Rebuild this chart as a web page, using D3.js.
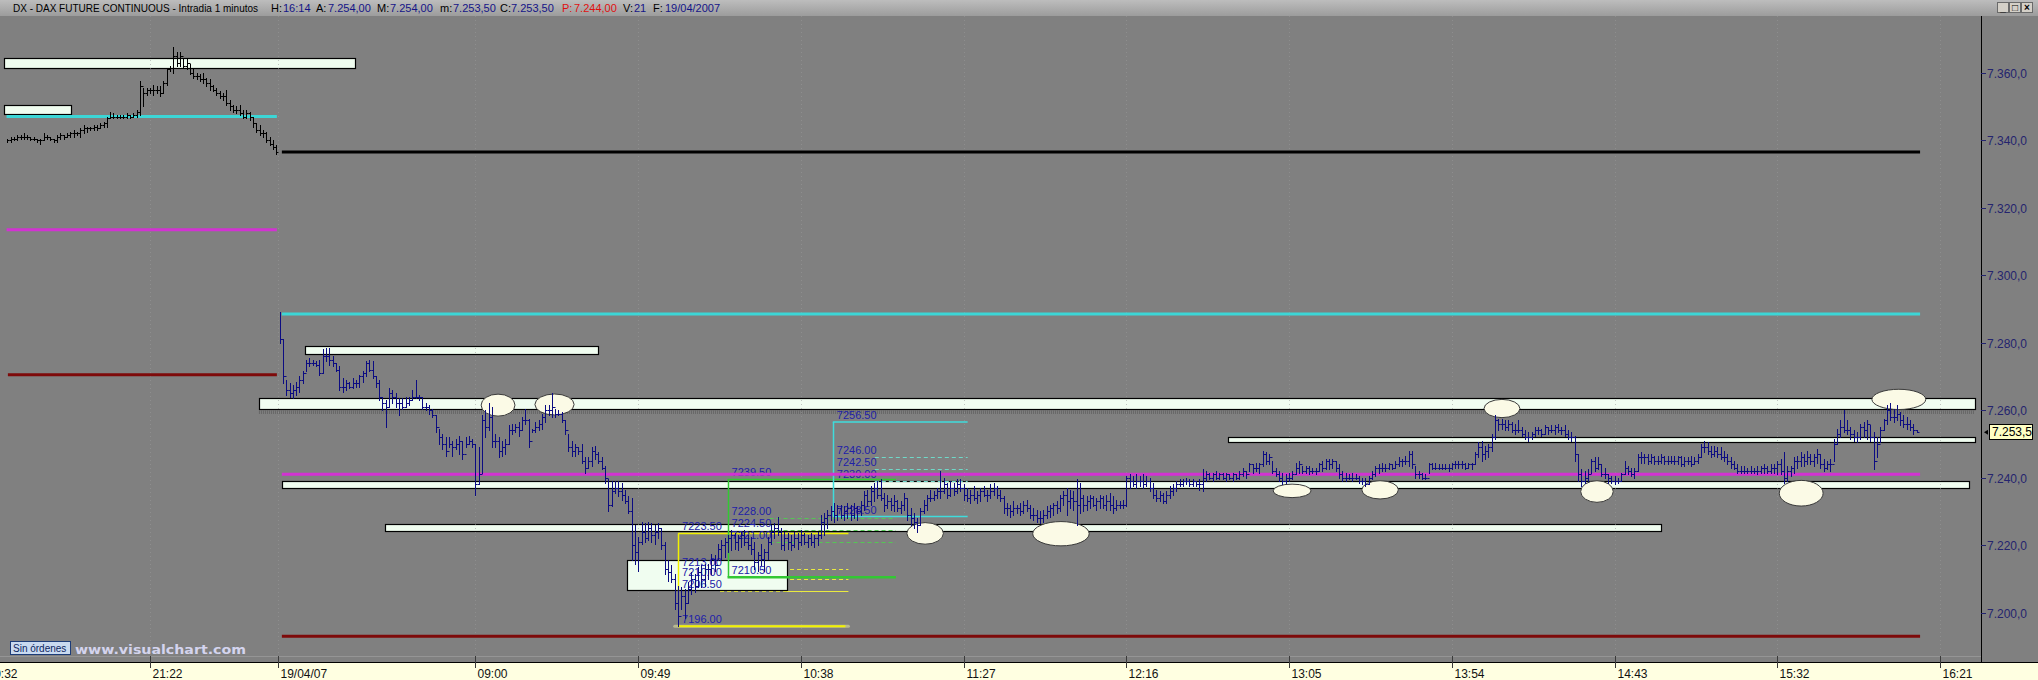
<!DOCTYPE html>
<html>
<head>
<meta charset="utf-8">
<script src="https://cdn.jsdelivr.net/npm/d3@7"></script>
<style>
html,body{margin:0;padding:0;background:#808080;overflow:hidden}
svg{display:block}
</style>
</head>
<body>
<svg id="chart" width="2038" height="680"></svg>
<script>
// ---------------- DATA ----------------
// bar index: one bar per minute of trading; 21:22 = 49, 09:00 = 147, 16:21 = 588
const eveStart = 6;
const eveLow = [7339.5,7339.5,7340,7340,7340.5,7340.5,7340.5,7340,7340,7339.5,
7339,7340,7340.5,7340,7339.5,7339.5,7340.5,7340.5,7341,7341,
7341,7341.5,7341,7342,7342.5,7343,7343,7343,7343.5,7344,
7344,7346.5,7346.5,7346.5,7346.5,7346.5,7346.5,7346.5,7347,7347,
7347.5,7350,7353.5,7354,7353.5,7354,7353,7354,7356.5,7360.5,
7360,7362,7362,7361.5,7361,7359.5,7358.5,7358,7357.5,7357,
7356,7355,7354.5,7353.5,7352.5,7352,7350.5,7349,7348.5,7348,
7347.5,7346.5,7346.5,7346,7344,7342.5,7341.5,7341,7339.5,7338.5,
7337.5,7336];
const eveHigh = [7340.5,7341,7341,7341.5,7341.5,7342,7341.5,7341,7341,7340.5,
7340.5,7342,7341.5,7341,7340.5,7341.5,7342,7341.5,7342,7342.5,
7343,7342.5,7343.5,7344.5,7344,7344,7344.5,7344.5,7345,7345.5,
7347,7348.5,7348,7347.5,7347.5,7347.5,7348,7347.5,7348,7349,
7357.5,7355.5,7355.5,7355.5,7356.5,7356,7356,7357.5,7361.5,7362,
7367.5,7366,7366,7364.5,7364.5,7362.5,7361,7360,7359.5,7360,
7358.5,7358,7356.5,7355.5,7354.5,7354,7355,7352,7350.5,7350,
7350.5,7349,7349,7348.5,7347,7345,7344.5,7343,7342.5,7341,
7340,7338.5];
const eveClose = [7340,7340.5,7340.5,7341,7341,7341,7341,7340.5,7340.5,7340,
7340,7341,7341,7340.5,7340,7341,7341.5,7341,7341.5,7342,
7342,7342,7343,7343.5,7343.5,7343.5,7344,7343.5,7344.5,7345,
7346.5,7347,7347,7347,7347,7347,7347.5,7347,7347.5,7348.5,
7356,7354,7355,7355,7355,7355,7354,7357,7361,7361.5,
7365,7363,7365,7362,7363,7360,7359,7359,7358,7358,
7357,7356,7355,7354,7353,7353,7351,7350,7349,7349,
7348,7347,7348,7347,7345,7343,7342,7342,7340,7339,
7338,7336.5];

const dayStart = 88;
const dayLow = [
7280,7268,7264.5,7264,7263.5,7264.5,7265.5,7268,7271.5,7273,
7273.5,7273,7270.5,7271,7274.5,7273.5,7273,7271.5,7266,7265.5,
7266,7266.5,7266.5,7267,7267,7268.5,7270,7271.5,7269.5,7267,
7263,7260,7255,7261,7262,7261,7258.5,7260.5,7261,7261.5,
7263,7263.5,7263,7260.5,7260,7259,7258,7253.5,7250,7248.5,
7246.5,7249,7246.5,7248.5,7247,7245.5,7249,7250,7249,7235,
7238,7241.5,7252,7254,7249,7249,7246,7246.5,7247,7250,
7253,7253.5,7252.5,7254,7256,7249,7253.5,7253.5,7254,7254.5,
7256.5,7258.5,7258,7258,7258.5,7256.5,7253,7248,7246.5,7246.5,
7247,7244.5,7241.5,7243,7243.5,7245.5,7244.5,7242.5,7238.5,7230,
7231.5,7235.5,7234.5,7233.5,7232.5,7229.5,7215.5,7214.5,7212.5,7220.5,
7221,7221.5,7221,7220.5,7222,7219,7211.5,7209.5,7209,7201,
7196,7201,7198.5,7203,7205.5,7206,7207.5,7207.5,7208,7210,
7211.5,7212.5,7215.5,7216,7216.5,7218,7218.5,7219,7218.5,7219.5,
7220,7219,7217.5,7213,7212.5,7214,7212.5,7216,7220.5,7222,
7223,7219,7218.5,7219,7218.5,7219.5,7219,7220,7220.5,7219.5,
7220,7219.5,7220,7222,7223,7225,7227.5,7227,7227.5,7228,
7227.5,7228,7227.5,7228,7227.5,7229,7230.5,7231.5,7232,7233,
7234,7233.5,7230,7231,7230.5,7230,7230,7229.5,7230.5,7227.5,
7226,7225,7224,7226,7229.5,7230.5,7233,7233.5,7234,7234,
7235.5,7234,7234.5,7235,7235.5,7236,7233.5,7233,7232.5,7233.5,
7232.5,7233,7234.5,7233,7234,7235,7234,7233,7229.5,7229,
7228.5,7229,7229.5,7229,7229.5,7230,7228,7227.5,7227,7226.5,
7227,7228,7228.5,7229,7229.5,7230,7232,7229,7231,7230.5,
7226,7229.5,7230,7230.5,7231,7231.5,7230.5,7231,7231,7230.5,
7230.5,7229.5,7230.5,7231,7231,7231.5,7237,7237.5,7237,7237.5,
7237,7237.5,7236,7234,7233,7233,7232.5,7232.5,7234,7235,
7236,7237.5,7237.5,7238,7237.5,7237.5,7237.5,7236.5,7236,7239,
7239.5,7239,7239.5,7239.5,7239.5,7239,7239.5,7239,7239.5,7239.5,
7240.5,7240,7242,7241.5,7242,7241.5,7243.5,7244,7244,7241.5,
7240.5,7239,7238,7238.5,7239,7239.5,7241,7241.5,7241.5,7241.5,
7241,7241.5,7241,7242,7242,7242.5,7242.5,7243,7242,7240,
7239,7239,7239.5,7239,7239.5,7238.5,7238,7237.5,7238,7239.5,
7240.5,7241.5,7242,7242,7242.5,7242.5,7243,7243.5,7243.5,7244,
7243.5,7243,7240,7240,7239.5,7239.5,7241.5,7242.5,7242.5,7242.5,
7242.5,7242.5,7242,7242.5,7243,7243,7243,7242.5,7243,7242.5,
7244,7246,7245,7245.5,7246,7248,7251.5,7254,7254.5,7254,
7254,7253.5,7253,7253.5,7252.5,7251.5,7251,7251.5,7252.5,7253,
7252.5,7253,7253,7253.5,7253,7253.5,7253,7252.5,7251.5,7251,
7245,7239,7237.5,7238.5,7239,7241.5,7242,7242.5,7240.5,7240,
7238.5,7238.5,7238,7238.5,7239,7241,7241,7240.5,7240,7242,
7244.5,7244.5,7244,7244.5,7244,7244,7244.5,7244,7244,7244.5,
7244,7244,7243.5,7243.5,7244,7243.5,7244,7244.5,7246,7247.5,
7247,7246,7246.5,7246,7245.5,7245,7244,7243,7242.5,7241.5,
7241.5,7241.5,7241.5,7241.5,7241.5,7241,7241.5,7241.5,7241.5,7241.5,
7241.5,7241,7241,7238.5,7239,7240.5,7241.5,7243,7243.5,7243.5,
7244,7244,7243.5,7244.5,7243,7242,7242.5,7242,7245,7250,
7252,7253.5,7253,7251.5,7251,7250.5,7251.5,7252,7251.5,7251,
7242.5,7246,7250.5,7254,7256,7257,7256.5,7257,7255.5,7255,
7254.5,7254,7253,7253.5];
const dayHigh = [
7289,7281,7269,7268,7267.5,7268.5,7270,7271.5,7275,7275.5,
7275,7274.5,7275,7278,7278.5,7278.5,7276,7274,7273,7269.5,
7269,7268.5,7269.5,7269,7270.5,7271.5,7274.5,7275,7274.5,7270,
7269,7264,7263,7266.5,7266,7265,7263.5,7263.5,7264,7264,
7266,7269,7264.5,7264,7262,7261.5,7260.5,7258.5,7254.5,7253,
7252,7252,7251,7251.5,7252.5,7251,7252,7252.5,7251.5,7250,
7249,7258.5,7260,7262,7261,7253,7252,7251,7251.5,7255.5,
7256,7256,7256.5,7258,7260.5,7257.5,7254.5,7256.5,7257,7259,
7261.5,7261.5,7265,7260.5,7260,7259.5,7257,7253,7251,7250,
7249,7250,7246,7246,7249,7249.5,7247.5,7246,7243.5,7239.5,
7239,7239,7239,7238.5,7236.5,7234.5,7234,7226,7222.5,7227,
7226.5,7227,7226.5,7226,7226.5,7225,7221,7215.5,7214,7211.5,
7208,7207.5,7207,7209,7212,7211.5,7213.5,7214,7214.5,7214.5,
7217.5,7217,7220.5,7221.5,7222,7223,7224.5,7223.5,7223,7224,
7224.5,7223,7222.5,7221,7218,7220.5,7219,7222.5,7226,7226.5,
7228.5,7225,7224,7223.5,7223,7224,7223.5,7224.5,7223.5,7223,
7223.5,7223,7224,7229,7229.5,7230.5,7231.5,7232.5,7232,7232,
7231.5,7232.5,7232,7232.5,7231.5,7233,7236,7236.5,7237.5,7238.5,
7239,7239.5,7235.5,7235,7234,7235,7233.5,7233,7235.5,7234,
7231,7229.5,7228,7231,7233.5,7235,7236.5,7236,7237,7242,
7240,7238.5,7239,7238.5,7239.5,7239.5,7238,7237,7236.5,7237.5,
7236,7237,7237.5,7236.5,7238,7238.5,7237.5,7236.5,7234.5,7232.5,
7232,7233,7232,7232.5,7233,7233.5,7232,7231,7230.5,7230,
7230.5,7231.5,7232,7232.5,7233,7235,7236,7237,7236.5,7236,
7239.5,7238.5,7235,7234.5,7235,7234.5,7234,7235,7234.5,7235,
7235.5,7234.5,7233.5,7233,7233.5,7240.5,7241,7240.5,7241,7240.5,
7241,7240.5,7240,7238.5,7236.5,7236,7235.5,7236,7237.5,7238,
7239,7239.5,7239.5,7240,7239.5,7239.5,7239,7239.5,7242.5,7242,
7241.5,7241.5,7242,7241.5,7241.5,7241.5,7241,7241.5,7241,7242,
7243,7242,7244.5,7244,7244.5,7244.5,7248,7247.5,7247,7245,
7243,7242,7241.5,7241,7241.5,7242,7244.5,7245,7243.5,7243.5,
7243.5,7243,7243,7244.5,7245,7245.5,7245.5,7245.5,7245,7244,
7242,7241.5,7241,7241.5,7241,7240.5,7240,7240,7240.5,7242,
7243.5,7244,7244.5,7244,7244.5,7244,7245,7246,7245.5,7246.5,
7248,7248,7243.5,7242,7241.5,7241,7244.5,7244.5,7244.5,7244,
7244,7244,7244,7244.5,7245,7245,7245,7244.5,7244.5,7244.5,
7247.5,7250.5,7251,7249.5,7250,7253,7258.5,7257.5,7257.5,7257,
7257,7256.5,7256,7257,7255,7254,7253.5,7253.5,7255,7255,
7254.5,7255.5,7255,7255.5,7255.5,7256,7255,7255.5,7254,7253.5,
7252.5,7247,7242.5,7242,7242.5,7245.5,7246,7246,7244,7243,
7241,7240.5,7240.5,7240,7241.5,7245,7243.5,7243,7243,7247,
7247.5,7247,7247,7247,7246.5,7246.5,7247,7246.5,7246.5,7246.5,
7246.5,7246.5,7246.5,7246,7246,7246.5,7246,7247,7250,7251,
7250.5,7249.5,7249.5,7249,7249,7248,7247,7246,7245,7244,
7243.5,7243.5,7243,7243.5,7243,7243.5,7243.5,7244,7243.5,7244,
7244,7245,7245.5,7247.5,7243.5,7243.5,7246,7246.5,7247.5,7247,
7248,7247,7247,7248.5,7247,7245.5,7245,7245.5,7251.5,7254.5,
7257,7260,7257,7255,7254,7253.5,7256,7256.5,7257,7255.5,
7253.5,7252,7255,7257.5,7261.5,7262,7260.5,7261.5,7259.5,7258.5,
7258,7257,7256,7254];
const dayClose = [
7281,7270,7266,7265,7266,7267,7269,7271,7274,7274,
7274,7273.5,7271,7276,7276,7275,7274,7272,7267,7267,
7268,7267,7268,7268,7270,7271,7274,7272,7270,7268,
7264,7262,7261,7265,7264,7262,7262,7261,7262,7263,
7264,7264,7264,7261,7261,7260,7258.5,7255,7252,7250,
7248,7250,7249,7250,7251,7247,7250,7251,7250,7238,
7241,7257,7255,7258,7251,7251,7248,7249,7250,7254,
7254,7255,7254,7257,7257,7251,7254,7255,7256,7258,
7260,7260,7261,7259,7259,7257,7254,7249,7248,7249,
7248,7245,7243,7245,7248,7247,7245,7243,7240,7232,
7236,7237,7236,7235,7233,7230,7220,7218,7221,7224,
7222,7225,7223,7224,7225,7220,7213,7212,7210,7203,
7199,7205,7203,7207,7210,7208,7212,7210,7213,7213,
7216,7214,7219,7220,7221,7222,7223,7221,7222,7223,
7221,7220,7219,7215,7217,7216,7218,7221,7224,7225,
7224,7220,7222,7221,7220,7222,7221,7223,7221,7222,
7221,7222,7223,7227,7228,7229,7230,7229,7231,7229,
7230,7231,7229,7231,7230,7232,7235,7233,7236,7237,
7235,7234,7232,7233,7232,7233,7231,7232,7234,7229,
7228,7227,7226,7230,7232,7234,7234,7235,7236,7236,
7238,7235,7237,7236,7238,7237,7235,7234,7235,7234,
7235,7236,7235,7235,7236,7237,7235,7234,7231,7231,
7230,7231,7231,7230,7232,7231,7229,7229,7228,7228,
7229,7230,7231,7232,7231,7234,7235,7233,7234,7233,
7232,7234,7232,7233,7234,7232,7233,7234,7232,7233,
7232,7231,7232,7232,7232,7240,7239,7238,7239,7239,
7238,7239,7237,7235,7234,7235,7233,7235,7236,7237,
7238,7238,7239,7239,7238,7239,7238,7238,7240,7241,
7240,7241,7240,7241,7240,7241,7240,7241,7240,7241,
7242,7241,7244,7243,7243,7244,7247,7245,7246,7242,
7241,7240,7239,7240,7240,7241,7243,7244,7242,7243,
7242,7242,7242,7244,7243,7245,7244,7245,7243,7241,
7240,7240,7240,7240,7240,7239,7239,7238,7240,7241,
7243,7243,7243,7243,7244,7243,7244,7245,7245,7245,
7247,7244,7241,7241,7240,7240,7244,7243,7243,7243,
7243,7243,7243,7244,7244,7244,7244,7243,7244,7244,
7247,7249,7247,7248,7249,7252,7257,7256,7256,7255,
7256,7254,7254,7254,7253,7252,7252,7253,7254,7254,
7253,7255,7254,7254,7255,7254,7254,7253,7252,7252,
7247,7241,7239,7240,7241,7245,7243,7244,7241,7241,
7240,7239,7239,7239,7241,7243,7242,7241,7242,7246,
7246,7246,7245,7246,7245,7245,7246,7245,7245,7245,
7245,7246,7244,7245,7245,7244,7245,7246,7249,7249,
7248,7247,7248,7247,7246,7246,7245,7244,7243,7242,
7242,7242,7242,7242,7242,7242,7243,7243,7242,7243,
7243,7244,7242,7240,7242,7243,7245,7245,7246,7245,
7246,7245,7246,7247,7244,7243,7244,7244,7250,7253,
7255,7254,7254,7253,7252,7252,7255,7254,7256,7252,
7245,7250,7254,7257,7260,7258,7258,7259,7257,7256,
7256,7255,7254,7253.5];

// horizontal reference levels (price, first bar, last bar, kind)
const levelPrice = [7347, 7313.5, 7270.5, 7336.5, 7288.5, 7241, 7193];
const levelFrom  = [5.8, 5.8, 6.2, 88.7, 88.7, 88.7, 88.7];
const levelTo    = [87.2, 87.2, 87.2, 582, 582, 582, 582];
const levelKind  = ["cyan","magenta","darkred","black","cyan","magenta","darkred"];

// support / resistance zones (price low, price high, first bar, last bar)
const zoneLow  = [7361.3, 7347.7, 7276.6, 7260.3, 7250.5, 7237.1, 7224.1];
const zoneHigh = [7364.3, 7350.3, 7279.1, 7263.5, 7252.0, 7239.1, 7226.2];
const zoneFrom = [5, 5, 95.8, 81.8, 373.7, 88.8, 119.7];
const zoneTo   = [110.7, 25.1, 184.1, 598.5, 598.5, 596.7, 504];
const boxLow = 7206.5, boxHigh = 7215.5, boxFrom = 192.6, boxTo = 240.8;

// retracement sets
const fibKind   = ["yellow","green","cyan"];
const fibFrom   = [208, 222.9, 254.6];
const fibTo     = [259.3, 273.6, 295.2];
const fibTop    = [7223.5, 7239.5, 7256.5];
const fibBottom = [7206.5, 7210.5, 7228.5];
const fibMid    = [[7213, 7210], [7228, 7224.5, 7221], [7246, 7242.5, 7239]];
const fibLabels = [[7223.5, 7213, 7210, 7206.5, 7196], [7239.5, 7228, 7224.5, 7221, 7210.5], [7256.5, 7246, 7242.5, 7239, 7228.5]];
const yellowLow = 7196, yellowLowFrom = 207;

// marked swing points (centre bar, centre price, half-width in bars, half-height in points)
const markBar   = [153.8, 170.8, 282.4, 323.3, 392.9, 419.4, 456.1, 484.7, 546.2, 575.6];
const markPrice = [7261.5, 7261.7, 7223.5, 7223.4, 7236.1, 7236.4, 7260.5, 7235.9, 7235.4, 7263.2];
const markRBar  = [5.1, 5.9, 5.5, 8.5, 5.7, 5.5, 5.4, 4.9, 6.6, 8.1];
const markRPts  = [3.26, 3.1, 3.2, 3.6, 2.0, 2.7, 2.7, 3.2, 3.8, 3.0];

// axes
const yTickValues = [7200, 7220, 7240, 7260, 7280, 7300, 7320, 7340, 7360];
const yTickLabels = ["7.200,0","7.220,0","7.240,0","7.260,0","7.280,0","7.300,0","7.320,0","7.340,0","7.360,0"];
const xTickBars   = [-0.6, 49, 87.5, 147, 196, 245, 294, 343, 392, 441, 490, 539, 588];
const xTickLabels = ["20:32","21:22","19/04/07","09:00","09:49","10:38","11:27","12:16","13:05","13:54","14:43","15:32","16:21"];
const lastPrice = 7253.5, lastPriceLabel = "7.253,5";

const titleParts = [
  ["DX - DAX FUTURE CONTINUOUS - Intradia 1 minutos", "k"],
  ["H:", "k"], ["16:14", "v"], ["A:", "k"], ["7.254,00", "v"], ["M:", "k"], ["7.254,00", "v"],
  ["m:", "k"], ["7.253,50", "v"], ["C:", "k"], ["7.253,50", "v"], ["P:", "r"], ["7.244,00", "r"],
  ["V:", "k"], ["21", "v"], ["F:", "k"], ["19/04/2007", "v"]
];
const titleX = [13, 271, 283, 316, 328, 377, 390, 440, 453, 500, 511, 562, 574, 623, 634, 653, 665];

// ---------------- DRAWING ----------------
const W = 2038, H = 680, PT = 16, PB = 662, PR = 1981;
const FONT = "'Liberation Sans', Arial, Helvetica, sans-serif";
const svg = d3.select("#chart");
const x = d3.scaleLinear().domain([0, 588]).range([-12.7, 1940]);
const y = d3.scaleLinear().domain([7200, 7360]).range([612.7, 72.7]);

const defs = svg.append("defs");
defs.append("clipPath").attr("id", "plotclip").append("rect")
  .attr("x", 0).attr("y", PT).attr("width", PR).attr("height", PB - PT);
const tg = defs.append("linearGradient").attr("id", "titlegrad").attr("x1", 0).attr("x2", 0).attr("y1", 0).attr("y2", 1);
tg.append("stop").attr("offset", "0%").attr("stop-color", "#bdbdbd");
tg.append("stop").attr("offset", "100%").attr("stop-color", "#9c9c9c");

svg.append("rect").attr("width", W).attr("height", H).attr("fill", "#808080");

const plot = svg.append("g").attr("clip-path", "url(#plotclip)");

// zones
const zoneIdx = d3.range(zoneLow.length);
plot.selectAll("rect.zone").data(zoneIdx).join("rect").attr("class", "zone")
  .attr("x", i => Math.round(x(zoneFrom[i])) + 0.5)
  .attr("y", i => Math.round(y(zoneHigh[i])) + 0.5)
  .attr("width", i => Math.round(x(zoneTo[i]) - x(zoneFrom[i])))
  .attr("height", i => Math.max(3, Math.round(y(zoneLow[i]) - y(zoneHigh[i]))))
  .attr("fill", "#f0fdf0").attr("stroke", "#000").attr("stroke-width", 1.2);
// hatched strip under the main 7260 zone
plot.append("line")
  .attr("x1", x(zoneFrom[3])).attr("x2", x(zoneTo[3]))
  .attr("y1", y(zoneLow[3]) + 3).attr("y2", y(zoneLow[3]) + 3)
  .attr("stroke", "#5e5e5e").attr("stroke-width", 3.5).attr("stroke-dasharray", "1,1").attr("opacity", 0.75);

// faint vertical grid at time ticks
plot.selectAll("line.grid").data(xTickBars).join("line").attr("class", "grid")
  .attr("x1", d => Math.round(x(d)) + 0.5).attr("x2", d => Math.round(x(d)) + 0.5)
  .attr("y1", PT).attr("y2", PB - 6)
  .attr("stroke", "#9a9a9a").attr("stroke-width", 1).attr("stroke-dasharray", "1,3").attr("opacity", 0.55);

// retracement sets
const fibSolid = {yellow: "#f2f200", green: "#33c833", cyan: "#3fdcdc"};
const fibDash  = {yellow: "#eaea40", green: "#55c655", cyan: "#6fd8c8"};
const LABEL_W = 42;
fibKind.forEach((k, s) => {
  const x0 = x(fibFrom[s]), x1 = x(fibTo[s]);
  const mids = fibMid[s].concat(k === "yellow" ? [fibBottom[s]] : []);
  mids.forEach(p => {
    plot.append("line").attr("x1", x0 + LABEL_W).attr("x2", x1)
      .attr("y1", Math.round(y(p)) + 0.5).attr("y2", Math.round(y(p)) + 0.5)
      .attr("stroke", fibDash[k]).attr("stroke-width", 1.2).attr("stroke-dasharray", "4,3");
  });
});
// marked congestion box
plot.append("rect")
  .attr("x", Math.round(x(boxFrom)) + 0.5).attr("y", Math.round(y(boxHigh)) + 0.5)
  .attr("width", Math.round(x(boxTo) - x(boxFrom))).attr("height", Math.round(y(boxLow) - y(boxHigh)))
  .attr("fill", "#f0fdf0").attr("stroke", "#000").attr("stroke-width", 1.2);
plot.append("line").attr("x1", x(boxTo)).attr("x2", x(fibTo[0]))
  .attr("y1", Math.round(y(boxLow)) + 0.5).attr("y2", Math.round(y(boxLow)) + 0.5)
  .attr("stroke", fibDash.yellow).attr("stroke-width", 1.2).attr("stroke-dasharray", "4,3");

fibKind.forEach((k, s) => {
  const x0 = x(fibFrom[s]), x1 = x(fibTo[s]);
  const xv = Math.round(x0) + 0.5;
  plot.append("line").attr("x1", xv).attr("x2", xv).attr("y1", y(fibTop[s])).attr("y2", y(fibBottom[s]))
    .attr("stroke", fibSolid[k]).attr("stroke-width", 1.5);
  plot.append("line").attr("x1", x0).attr("x2", x1).attr("y1", y(fibTop[s])).attr("y2", y(fibTop[s]))
    .attr("stroke", fibSolid[k]).attr("stroke-width", 1.5);
  if (k !== "yellow") {
    plot.append("line").attr("x1", x0).attr("x2", x1).attr("y1", y(fibBottom[s])).attr("y2", y(fibBottom[s]))
      .attr("stroke", fibSolid[k]).attr("stroke-width", k === "green" ? 2.5 : 1.5);
  }
  fibLabels[s].forEach(p => {
    plot.append("text").attr("x", x0 + 4).attr("y", y(p) - 3)
      .attr("font-family", FONT).attr("font-size", 11).attr("fill", "#2020a8")
      .text(p.toFixed(2));
  });
});
// yellow low line
plot.append("line").attr("x1", x(yellowLowFrom)).attr("x2", x(fibTo[0]))
  .attr("y1", y(yellowLow)).attr("y2", y(yellowLow))
  .attr("stroke", "#b8b890").attr("stroke-width", 3).attr("stroke-linecap", "round");
plot.append("line").attr("x1", x(yellowLowFrom) + 3).attr("x2", x(fibTo[0]) - 3)
  .attr("y1", y(yellowLow)).attr("y2", y(yellowLow))
  .attr("stroke", "#f2f200").attr("stroke-width", 2);

// main levels
const levelColor = {cyan: "#3cd6d6", magenta: "#d232d2", darkred: "#7e0a0a", black: "#000000"};
d3.range(levelPrice.length).forEach(i => {
  plot.append("line")
    .attr("x1", x(levelFrom[i])).attr("x2", x(levelTo[i]))
    .attr("y1", y(levelPrice[i])).attr("y2", y(levelPrice[i]))
    .attr("stroke", levelColor[levelKind[i]]).attr("stroke-width", 3);
});

// ellipses
plot.selectAll("ellipse.mark").data(d3.range(markBar.length)).join("ellipse").attr("class", "mark")
  .attr("cx", i => x(markBar[i])).attr("cy", i => y(markPrice[i]))
  .attr("rx", i => x(markBar[i] + markRBar[i]) - x(markBar[i]))
  .attr("ry", i => y(markPrice[i] - markRPts[i]) - y(markPrice[i]))
  .attr("fill", "#fbfae6").attr("stroke", "#3a3a3a").attr("stroke-width", 1);

// OHLC bars
function bars(start, lo, hi, cl, color, prevClose) {
  let d = "";
  for (let k = 0; k < lo.length; k++) {
    const xi = Math.round(x(start + k)) + 0.5;
    const yh = Math.round(y(hi[k])), yl = Math.round(y(lo[k])) + 1;
    d += `M${xi},${yh}V${yl}`;
    const o = k === 0 ? prevClose : cl[k - 1];
    if (o != null) { const yo = Math.round(y(o)) + 0.5; d += `M${xi - 2},${yo}H${xi}`; }
    const yc = Math.round(y(cl[k])) + 0.5;
    d += `M${xi},${yc}H${xi + 2}`;
  }
  plot.append("path").attr("d", d).attr("fill", "none").attr("stroke", color).attr("stroke-width", 1);
}
bars(eveStart, eveLow, eveHigh, eveClose, "#000000", null);
bars(dayStart, dayLow, dayHigh, dayClose, "#0c0c82", null);

// light strip above time axis
svg.append("line").attr("x1", 0).attr("x2", PR).attr("y1", 656.5).attr("y2", 656.5).attr("stroke", "#959595");

// right axis
svg.append("line").attr("x1", PR + 0.5).attr("x2", PR + 0.5).attr("y1", PT).attr("y2", PB).attr("stroke", "#000");
const ya = svg.append("g");
yTickValues.forEach((v, i) => {
  const yy = Math.round(y(v)) + 0.5;
  ya.append("line").attr("x1", PR).attr("x2", PR + 5).attr("y1", yy).attr("y2", yy).attr("stroke", "#24246e");
  ya.append("text").attr("x", PR + 6).attr("y", yy).attr("dy", "0.36em")
    .attr("font-family", FONT).attr("font-size", 12).attr("fill", "#24246e").text(yTickLabels[i]);
});
const ly = y(lastPrice);
svg.append("path").attr("d", `M${PR + 3},${ly}L${PR + 7},${ly - 2.5}L${PR + 7},${ly + 2.5}Z`).attr("fill", "#000");
svg.append("rect").attr("x", PR + 8.5).attr("y", Math.round(ly) - 7.5).attr("width", 43).attr("height", 15)
  .attr("fill", "#ffffc4").attr("stroke", "#000");
svg.append("text").attr("x", PR + 11).attr("y", ly).attr("dy", "0.36em")
  .attr("font-family", FONT).attr("font-size", 12).attr("fill", "#000").text(lastPriceLabel);

// time axis
svg.append("rect").attr("x", 0).attr("y", PB).attr("width", W).attr("height", H - PB).attr("fill", "#ffffe1");
svg.append("line").attr("x1", 0).attr("x2", W).attr("y1", PB + 0.5).attr("y2", PB + 0.5).attr("stroke", "#000");
xTickBars.forEach((b, i) => {
  const xx = Math.round(x(b)) + 0.5;
  svg.append("line").attr("x1", xx).attr("x2", xx).attr("y1", 656).attr("y2", 668).attr("stroke", "#3a3a3a");
  svg.append("text").attr("x", xx + 2).attr("y", 677.5)
    .attr("font-family", FONT).attr("font-size", 12).attr("fill", "#111").text(xTickLabels[i]);
});

// title bar
svg.append("rect").attr("x", 0).attr("y", 0).attr("width", W).attr("height", PT).attr("fill", "url(#titlegrad)");
const titleColor = {k: "#000000", v: "#141488", r: "#e01010"};
titleParts.forEach((p, i) => {
  svg.append("text").attr("x", titleX[i]).attr("y", 12)
    .attr("font-family", FONT).attr("font-size", i === 0 ? 10 : 11).attr("fill", titleColor[p[1]]).text(p[0]);
});
// window buttons
["_", "\u25a1", "\u00d7"].forEach((c, i) => {
  const bx = 1997 + i * 12;
  svg.append("rect").attr("x", bx + 0.5).attr("y", 2.5).attr("width", 11).attr("height", 10)
    .attr("fill", "#d4d0c8").attr("stroke", "#6a6a6a");
  svg.append("text").attr("x", bx + 6).attr("y", 11).attr("text-anchor", "middle")
    .attr("font-family", FONT).attr("font-size", 10).attr("font-weight", "bold").attr("fill", "#000").text(c);
});

// status button and watermark
svg.append("rect").attr("x", 10.5).attr("y", 641.5).attr("width", 60).attr("height", 13)
  .attr("fill", "#c9daf0").attr("stroke", "#1c3c78");
svg.append("text").attr("x", 13).attr("y", 651.5).attr("font-family", FONT).attr("font-size", 10)
  .attr("fill", "#0c2660").text("Sin órdenes");
svg.append("text").attr("x", 75).attr("y", 654).attr("font-family", "'DejaVu Sans', Verdana, sans-serif")
  .attr("font-size", 13).attr("font-weight", "bold").attr("fill", "#d4d4ee")
  .attr("textLength", 171).attr("lengthAdjust", "spacingAndGlyphs").text("www.visualchart.com");
</script>
</body>
</html>
